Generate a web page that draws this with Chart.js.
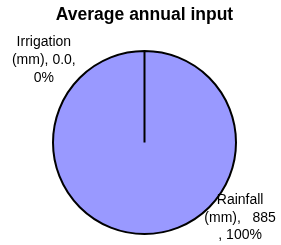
<!DOCTYPE html>
<html>
<head>
<meta charset="utf-8">
<script src="https://cdn.jsdelivr.net/npm/chart.js@4"></script>
<style>
    html, body { margin: 0; padding: 0; background: #fff; }
    #wrap { width: 281px; height: 245px; }
</style>
</head>
<body>
<div id="wrap"><canvas id="pieChart" width="281" height="245"></canvas></div>
<script>
var categories = ['Irrigation (mm)', 'Rainfall (mm)'];
var values = [0.0, 885];
var valueText = ['0.0', '885'];
var percents = [0, 100];

// data labels, wrapped the way the original chart wraps them
var labelPlugin = {
    id: 'pieLabels',
    afterDatasetsDraw: function (chart) {
        var ctx = chart.ctx;
        var arc = chart.getDatasetMeta(0).data[0];
        var cx = arc.x, cy = arc.y, r = arc.outerRadius;
        var lines = [
            [categories[0].split(' ')[0], categories[0].split(' ')[1] + ', ' + valueText[0] + ',', percents[0] + '%'],
            [categories[1].split(' ')[0], categories[1].split(' ')[1] + ',   ' + valueText[1], ', ' + percents[1] + '%']
        ];
        var anchors = [
            { x: cx - 1.10 * r, y: cy - 1.05 * r },
            { x: cx + 1.045 * r, y: cy + 0.67 * r }
        ];
        ctx.save();
        ctx.font = '14px "Liberation Sans", Arial, sans-serif';
        ctx.fillStyle = '#000';
        ctx.textAlign = 'center';
        ctx.textBaseline = 'alphabetic';
        lines.forEach(function (ls, i) {
            ls.forEach(function (t, j) {
                ctx.fillText(t, anchors[i].x, anchors[i].y + j * 17.7);
            });
        });
        ctx.restore();
    }
};

var pieCtx = document.getElementById('pieChart').getContext('2d');
var pieChart = new Chart(pieCtx, {
    type: 'pie',
    data: {
        labels: categories,
        datasets: [{
            data: values,
            backgroundColor: ['#9999FF', '#9999FF'],
            borderColor: '#000',
            borderWidth: 2
        }]
    },
    options: {
        responsive: false,
        animation: false,
        layout: { padding: { left: 8, right: 0, top: 0, bottom: 10 } },
        plugins: {
            legend: { display: false },
            tooltip: { enabled: false },
            title: {
                display: true,
                text: 'Average annual input',
                color: '#000',
                font: { family: '"Liberation Sans", Arial, sans-serif', size: 17.5, weight: 'bold', lineHeight: 1.2 },
                padding: { top: 5, bottom: 24 }
            }
        }
    },
    plugins: [labelPlugin]
});
</script>
</body>
</html>
